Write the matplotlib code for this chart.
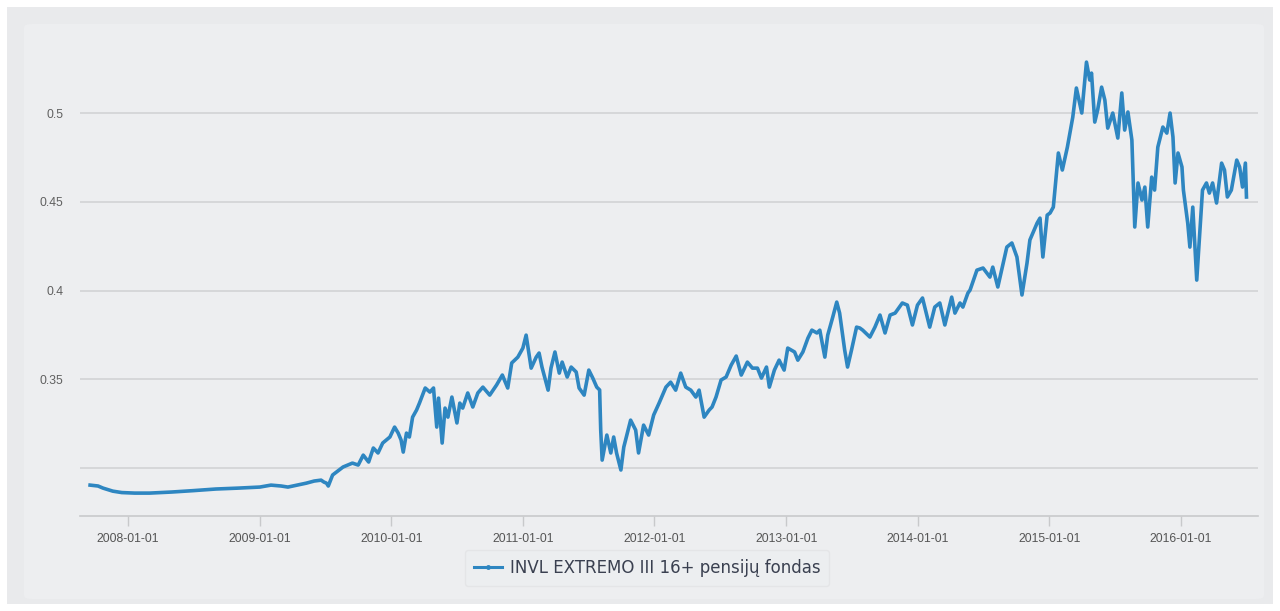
import matplotlib
matplotlib.use('Agg')
import matplotlib.pyplot as plt
import matplotlib.patches as mpatches
import matplotlib.dates as mdates
from matplotlib.lines import Line2D
import pandas as pd

series_name = 'INVL EXTREMO III 16+ pensijų fondas'

dates = [
    '2007-09-18', '2007-10-10', '2007-10-24', '2007-11-20', '2007-12-15', '2008-01-20', '2008-03-01',
    '2008-05-01', '2008-07-01', '2008-09-01', '2008-11-01', '2009-01-01', '2009-02-01', '2009-03-01',
    '2009-03-20', '2009-04-15', '2009-05-10', '2009-06-01', '2009-06-20', '2009-06-28', '2009-07-05',
    '2009-07-10', '2009-07-22', '2009-08-20', '2009-09-15', '2009-10-01', '2009-10-15', '2009-10-30',
    '2009-11-12', '2009-11-25', '2009-12-08', '2009-12-28', '2010-01-10', '2010-01-20', '2010-01-28',
    '2010-02-03', '2010-02-12', '2010-02-20', '2010-03-01', '2010-03-12', '2010-03-20', '2010-04-05',
    '2010-04-18', '2010-04-28', '2010-05-07', '2010-05-12', '2010-05-22', '2010-05-30', '2010-06-07',
    '2010-06-18', '2010-07-02', '2010-07-10', '2010-07-18', '2010-08-01', '2010-08-15', '2010-08-29',
    '2010-09-12', '2010-10-01', '2010-10-20', '2010-11-05', '2010-11-20', '2010-12-01', '2010-12-18',
    '2011-01-01', '2011-01-10', '2011-01-24', '2011-02-07', '2011-02-15', '2011-02-23', '2011-03-12',
    '2011-03-20', '2011-03-31', '2011-04-12', '2011-04-20', '2011-05-04', '2011-05-15', '2011-05-29',
    '2011-06-06', '2011-06-20', '2011-07-03', '2011-07-14', '2011-07-25', '2011-08-02', '2011-08-05',
    '2011-08-09', '2011-08-22', '2011-09-02', '2011-09-10', '2011-09-18', '2011-09-30', '2011-10-08',
    '2011-10-27', '2011-11-10', '2011-11-18', '2011-12-02', '2011-12-16', '2011-12-30', '2012-01-14',
    '2012-02-02', '2012-02-15', '2012-02-29', '2012-03-14', '2012-03-28', '2012-04-11', '2012-04-25',
    '2012-05-04', '2012-05-18', '2012-06-01', '2012-06-09', '2012-06-20', '2012-07-04', '2012-07-18',
    '2012-08-01', '2012-08-15', '2012-08-29', '2012-09-15', '2012-09-29', '2012-10-13', '2012-10-24',
    '2012-11-07', '2012-11-15', '2012-11-29', '2012-12-12', '2012-12-26', '2013-01-05', '2013-01-24',
    '2013-02-02', '2013-02-16', '2013-03-02', '2013-03-13', '2013-03-27', '2013-04-04', '2013-04-18',
    '2013-04-26', '2013-05-10', '2013-05-21', '2013-05-29', '2013-06-12', '2013-06-20', '2013-07-01',
    '2013-07-15', '2013-07-24', '2013-08-01', '2013-08-21', '2013-09-04', '2013-09-18', '2013-10-02',
    '2013-10-16', '2013-10-30', '2013-11-19', '2013-12-03', '2013-12-17', '2013-12-31', '2014-01-14',
    '2014-02-03', '2014-02-17', '2014-03-03', '2014-03-17', '2014-04-05', '2014-04-14', '2014-04-28',
    '2014-05-06', '2014-05-20', '2014-05-26', '2014-06-14', '2014-07-01', '2014-07-20', '2014-07-28',
    '2014-08-11', '2014-09-05', '2014-09-19', '2014-10-03', '2014-10-17', '2014-10-31', '2014-11-08',
    '2014-11-28', '2014-12-06', '2014-12-14', '2014-12-26', '2015-01-03', '2015-01-12', '2015-01-26',
    '2015-02-06', '2015-02-20', '2015-03-07', '2015-03-17', '2015-04-01', '2015-04-14', '2015-04-23',
    '2015-04-28', '2015-05-07', '2015-05-15', '2015-05-26', '2015-06-04', '2015-06-12', '2015-06-26',
    '2015-07-10', '2015-07-21', '2015-07-29', '2015-08-07', '2015-08-18', '2015-08-26', '2015-09-04',
    '2015-09-15', '2015-09-23', '2015-10-01', '2015-10-12', '2015-10-20', '2015-10-29', '2015-11-12',
    '2015-11-23', '2015-12-02', '2015-12-10', '2015-12-16', '2015-12-24', '2016-01-04', '2016-01-08',
    '2016-01-20', '2016-01-26', '2016-02-03', '2016-02-14', '2016-02-23', '2016-03-01', '2016-03-12',
    '2016-03-20', '2016-03-29', '2016-04-09', '2016-04-23', '2016-05-01', '2016-05-09', '2016-05-20',
    '2016-06-04', '2016-06-12', '2016-06-20', '2016-06-28', '2016-07-01',
]

values = [
    0.2904, 0.2899, 0.2887, 0.2870, 0.2862, 0.2859, 0.2859,
    0.2865, 0.2873, 0.2882, 0.2887, 0.2893, 0.2904, 0.2899,
    0.2893, 0.2904, 0.2915, 0.2927, 0.2932, 0.2921, 0.2915,
    0.2899, 0.2961, 0.3006, 0.3028, 0.3017, 0.3073, 0.3034,
    0.3113, 0.3085, 0.3141, 0.3175, 0.3231, 0.3197, 0.3158,
    0.3090, 0.3197, 0.3175, 0.3287, 0.3327, 0.3366, 0.3451,
    0.3428, 0.3451, 0.3231, 0.3394, 0.3141, 0.3338, 0.3287,
    0.3400, 0.3254, 0.3366, 0.3338, 0.3423, 0.3344, 0.3423,
    0.3456, 0.3411, 0.3468, 0.3524, 0.3451, 0.3592, 0.3625,
    0.3676, 0.3749, 0.3563, 0.3625, 0.3648, 0.3569, 0.3439,
    0.3563, 0.3654, 0.3535, 0.3597, 0.3513, 0.3569, 0.3541,
    0.3451, 0.3411, 0.3552, 0.3507, 0.3456, 0.3440, 0.3214,
    0.3045, 0.3186, 0.3085, 0.3175, 0.3085, 0.2989, 0.3118,
    0.3270, 0.3214, 0.3085, 0.3242, 0.3186, 0.3299, 0.3366,
    0.3456, 0.3484, 0.3439, 0.3535, 0.3456, 0.3439, 0.3400,
    0.3439, 0.3287, 0.3327, 0.3344, 0.3400, 0.3496, 0.3513,
    0.3580, 0.3631, 0.3524, 0.3597, 0.3563, 0.3563, 0.3507,
    0.3569, 0.3456, 0.3552, 0.3608, 0.3552, 0.3676, 0.3654,
    0.3608, 0.3654, 0.3732, 0.3777, 0.3761, 0.3777, 0.3625,
    0.3749, 0.3851, 0.3935, 0.3873, 0.3665, 0.3569, 0.3665,
    0.3794, 0.3789, 0.3777, 0.3738, 0.3794, 0.3862, 0.3761,
    0.3862, 0.3873, 0.3930, 0.3918, 0.3806, 0.3918, 0.3958,
    0.3794, 0.3907, 0.3930, 0.3806, 0.3963, 0.3873, 0.3930,
    0.3907, 0.3986, 0.4003, 0.4115, 0.4127, 0.4076, 0.4132,
    0.4020, 0.4245, 0.4268, 0.4189, 0.3975, 0.4155, 0.4285,
    0.4380, 0.4408, 0.4189, 0.4425, 0.4437, 0.4470, 0.4775,
    0.4679, 0.4808, 0.4977, 0.5141, 0.5000, 0.5287, 0.5186,
    0.5225, 0.4949, 0.5017, 0.5146, 0.5073, 0.4915, 0.5000,
    0.4859, 0.5113, 0.4904, 0.5006, 0.4848, 0.4358, 0.4606,
    0.4510, 0.4583, 0.4358, 0.4639, 0.4566, 0.4808, 0.4921,
    0.4887, 0.5000, 0.4865, 0.4606, 0.4775, 0.4696, 0.4566,
    0.4380, 0.4245, 0.4470, 0.4059, 0.4341, 0.4566, 0.4606,
    0.4549, 0.4606, 0.4493, 0.4718, 0.4679, 0.4527, 0.4566,
    0.4735, 0.4696, 0.4583, 0.4718, 0.4527,
]

y_ticks = [0.3, 0.35, 0.4, 0.45, 0.5]
y_tick_labels = ['', '0.35', '0.4', '0.45', '0.5']
x_ticks = ['2008-01-01', '2009-01-01', '2010-01-01', '2011-01-01', '2012-01-01',
           '2013-01-01', '2014-01-01', '2015-01-01', '2016-01-01']

line_color = '#2e86c1'

fig = plt.figure(figsize=(12.8, 6.11), dpi=100)
fig.patch.set_facecolor('white')

# gray panel behind everything
fig.patches.append(mpatches.Rectangle((7 / 1280, 7 / 611), 1266 / 1280, 597 / 611,
                                      transform=fig.transFigure, facecolor='#e9eaec',
                                      edgecolor='none', zorder=-5))
fig.patches.append(mpatches.FancyBboxPatch((24 / 1280, 12 / 611), 1240 / 1280, 575 / 611,
                                           boxstyle='round,pad=0,rounding_size=0.006',
                                           transform=fig.transFigure, facecolor='#edeef0',
                                           edgecolor='none', zorder=-4))

ax = fig.add_axes([80 / 1280, 1 - 516 / 611, 1178 / 1280, 491 / 611])
ax.set_facecolor('none')
ax.set_zorder(2)

x = pd.to_datetime(dates)
ax.plot(x, values, color=line_color, lw=2.6, solid_joinstyle='round', zorder=3)

ax.set_xlim(pd.Timestamp('2007-08-21'), pd.Timestamp('2016-08-02'))
ax.set_ylim(0.2730, 0.5496)

ax.set_yticks(y_ticks)
ax.set_yticklabels(y_tick_labels)
ax.yaxis.grid(True, color='#d2d3d5', lw=1.2)
ax.tick_params(axis='y', length=0, pad=12, labelsize=8.8, labelcolor='#606060')

ax.set_xticks(pd.to_datetime(x_ticks))
ax.xaxis.set_major_formatter(mdates.DateFormatter('%Y-%m-%d'))
ax.tick_params(axis='x', length=7, width=1, color='#c8c9cb', pad=5, labelsize=8.8,
               labelcolor='#555555')

for s in ['top', 'right', 'left']:
    ax.spines[s].set_visible(False)
ax.spines['bottom'].set_color('#c8c9cb')
ax.spines['bottom'].set_linewidth(1.2)
ax.set_axisbelow(True)

for lab in ax.get_xticklabels() + ax.get_yticklabels():
    lab.set_family(['Liberation Sans', 'DejaVu Sans'])

handle = Line2D([], [], color=line_color, lw=2.2, marker='o', markersize=2.5)
leg = fig.legend(handles=[handle], labels=[series_name], loc='center',
                 bbox_to_anchor=(647 / 1280, 1 - 568 / 611), frameon=True, fancybox=True,
                 facecolor='#eceef0', edgecolor='#e2e3e5', handlelength=1.7,
                 handletextpad=0.45, borderpad=0.55,
                 prop={'family': ['DejaVu Sans'], 'size': 12})
for t in leg.get_texts():
    t.set_color('#3a4050')

plt.savefig('out.png', dpi=100, facecolor=fig.get_facecolor())
plt.close()
